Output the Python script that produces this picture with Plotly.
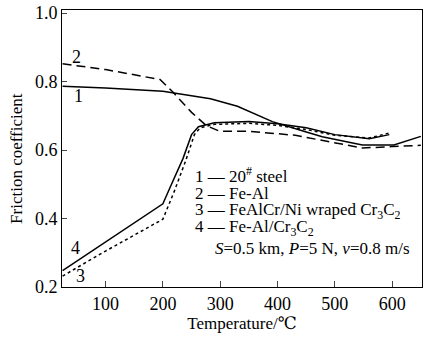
import plotly.graph_objects as go

# Friction coefficient vs. test temperature for four materials
temp_1 = [25, 100, 200, 250, 283, 330, 391, 440, 478, 548, 603, 650]
fric_1 = [0.786, 0.781, 0.772, 0.760, 0.750, 0.728, 0.683, 0.658, 0.639, 0.615, 0.615, 0.640]

temp_2 = [25, 100, 195, 217, 250, 276, 299, 350, 431, 500, 548, 600, 650]
fric_2 = [0.852, 0.835, 0.806, 0.770, 0.710, 0.671, 0.655, 0.655, 0.643, 0.622, 0.606, 0.610, 0.614]

temp_3 = [25, 100, 200, 220, 240, 255, 265, 290, 350, 400, 450, 500, 560, 595]
fric_3 = [0.232, 0.305, 0.398, 0.480, 0.570, 0.645, 0.665, 0.675, 0.678, 0.672, 0.660, 0.643, 0.635, 0.650]

temp_4 = [25, 100, 200, 215, 235, 250, 262, 290, 350, 400, 450, 500, 560, 595]
fric_4 = [0.248, 0.332, 0.443, 0.500, 0.575, 0.645, 0.668, 0.680, 0.683, 0.677, 0.665, 0.645, 0.633, 0.645]

legend_lines = [
    "1 — 20<sup>#</sup> steel",
    "2 — Fe-Al",
    "3 — FeAlCr/Ni wraped Cr<sub>3</sub>C<sub>2</sub>",
    "4 — Fe-Al/Cr<sub>3</sub>C<sub>2</sub>",
]
condition_text = "<i>S</i>=0.5 km, <i>P</i>=5 N, <i>v</i>=0.8 m/s"

x_ticks = [100, 200, 300, 400, 500, 600]
y_ticks = [0.2, 0.4, 0.6, 0.8, 1.0]

FONT = "Times New Roman, Liberation Serif, DejaVu Serif, serif"

# plot-area placement (pixels) used to position the text block
W, H = 426, 340
L, R, T, B = 62, 3, 4, 53
PW, PH = W - L - R, H - T - B


def px_to_paper(px, py):
    return (px - L) / PW, (H - B - py) / PH


fig = go.Figure()
fig.add_trace(go.Scatter(x=temp_1, y=fric_1, mode="lines",
                         line=dict(color="black", width=1.5)))
fig.add_trace(go.Scatter(x=temp_2, y=fric_2, mode="lines",
                         line=dict(color="black", width=1.5, dash="9px,5px")))
fig.add_trace(go.Scatter(x=temp_3, y=fric_3, mode="lines",
                         line=dict(color="black", width=1.5, dash="dot")))
fig.add_trace(go.Scatter(x=temp_4, y=fric_4, mode="lines",
                         line=dict(color="black", width=1.5)))

# curve number labels
for txt, x, y in [("2", 50, 0.871), ("1", 52, 0.758), ("4", 47, 0.314), ("3", 57, 0.231)]:
    fig.add_annotation(x=x, y=y, text=txt, showarrow=False,
                       font=dict(family=FONT, size=18, color="black"))

# legend block
legend_y = [173, 191, 209, 227]
for txt, py in zip(legend_lines, legend_y):
    ax, ay = px_to_paper(193, py)
    fig.add_annotation(x=ax, y=ay, xref="paper", yref="paper",
                       xanchor="left", yanchor="middle", text=txt, showarrow=False,
                       font=dict(family=FONT, size=17, color="black"))
cx, cy = px_to_paper(313, 248)
fig.add_annotation(x=cx, y=cy, xref="paper", yref="paper",
                   xanchor="center", yanchor="middle", text=condition_text, showarrow=False,
                   font=dict(family=FONT, size=17, color="black"))

# y-axis title
tx, ty = px_to_paper(17, 156)
fig.add_annotation(x=tx, y=ty, xref="paper", yref="paper", textangle=-90,
                   xanchor="center", yanchor="middle", text="Friction coefficient",
                   showarrow=False, font=dict(family=FONT, size=17, color="black"))

fig.update_layout(
    width=W, height=H,
    margin=dict(l=L, r=R, t=T, b=B),
    paper_bgcolor="white", plot_bgcolor="white",
    showlegend=False,
    font=dict(family=FONT, size=18, color="black"),
    xaxis=dict(range=[24, 652], tickvals=x_ticks, ticks="inside", ticklen=6,
               ticklabeloverflow="allow",
               showgrid=False, zeroline=False, showline=True, linecolor="black",
               linewidth=1, mirror=True,
               title=dict(text="Temperature/℃", font=dict(family=FONT, size=17), standoff=2)),
    yaxis=dict(range=[0.2, 1.009], tickvals=y_ticks, tickformat=".1f",
               ticks="inside", ticklen=5, ticklabeloverflow="allow",
               showgrid=False, zeroline=False, showline=True, linecolor="black",
               linewidth=1, mirror=True),
)

fig.write_html("out.html")
